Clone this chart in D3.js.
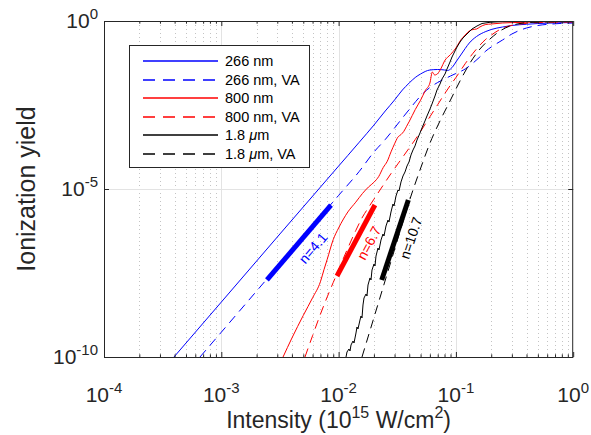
<!DOCTYPE html>
<html><head><meta charset="utf-8">
<script src="https://cdn.jsdelivr.net/npm/d3@7"></script>
<style>
body{margin:0;background:#fff}
svg{display:block}
text{font-family:"Liberation Sans",Arial,Helvetica,sans-serif;fill:#262626}
</style>
</head><body>
<svg id="chart" width="591" height="435"></svg>
<script>
// ---------------- data ----------------
const xTickExps = [-4, -3, -2, -1, 0];
const yTickExps = [-10, -5, 0];

const int266 = [3.95e-4, 1e-3, 1e-2, 1.2e-2, 1.5e-2, 2.0e-2, 2.5e-2, 3.0e-2, 3.5e-2, 4.0e-2, 4.5e-2, 5.0e-2, 6.0e-2, 7.0e-2, 8.0e-2, 8.5e-2, 9.0e-2, 9.5e-2, 0.10, 0.11, 0.12, 0.13, 0.15, 0.18, 0.20, 0.25, 0.30, 0.40, 0.50, 0.70, 1.0];
const yld266 = [1e-10, 4.31e-9, 4.81e-5, 1.0e-4, 2.47e-4, 7.98e-4, 2.10e-3, 4.46e-3, 8.84e-3, 1.43e-2, 2.08e-2, 2.65e-2, 3.48e-2, 3.60e-2, 3.48e-2, 3.36e-2, 3.73e-2, 4.58e-2, 6.02e-2, 9.73e-2, 0.152, 0.221, 0.346, 0.487, 0.558, 0.663, 0.735, 0.80, 0.84, 0.88, 0.90];

const int266VA = [6.58e-4, 1e-3, 1e-2, 1.5e-2, 2.0e-2, 2.5e-2, 3.0e-2, 3.5e-2, 4.0e-2, 5.0e-2, 6.0e-2, 7.0e-2, 8.0e-2, 9.0e-2, 0.10, 0.12, 0.14, 0.16, 0.18, 0.20, 0.25, 0.30, 0.40, 0.50, 0.70, 1.0];
const yld266VA = [1e-10, 5.47e-10, 6.45e-6, 3.34e-5, 1.26e-4, 2.97e-4, 6.54e-4, 1.30e-3, 2.32e-3, 5.86e-3, 1.05e-2, 1.48e-2, 1.88e-2, 2.31e-2, 2.74e-2, 3.73e-2, 5.62e-2, 8.48e-2, 0.128, 0.168, 0.272, 0.410, 0.619, 0.735, 0.826, 0.872];

const int800 = [3.36e-3, 4e-3, 5e-3, 6e-3, 7e-3, 7.5e-3, 8e-3, 9e-3, 1.0e-2, 1.1e-2, 1.2e-2, 1.4e-2, 1.6e-2, 1.8e-2, 2.0e-2, 2.2e-2, 2.4e-2, 2.6e-2, 2.8e-2, 3.0e-2, 3.2e-2, 3.4e-2, 3.6e-2, 3.8e-2, 4.0e-2, 4.5e-2, 5.0e-2, 5.5e-2, 6.0e-2, 6.3e-2, 6.6e-2, 7.0e-2, 7.5e-2, 8.0e-2, 9.0e-2, 0.10, 0.11, 0.12, 0.13, 0.14, 0.15, 0.16, 0.18, 0.20, 0.25, 0.30, 0.40, 0.50, 0.70, 1.0];
const yld800 = [1e-10, 3.67e-10, 1.73e-9, 5.78e-9, 1.74e-8, 3.94e-8, 8.09e-8, 3.12e-7, 6.90e-7, 1.28e-6, 2.08e-6, 4.05e-6, 7.4e-6, 1.15e-5, 1.58e-5, 2.37e-5, 4.34e-5, 6.70e-5, 1.28e-4, 2.21e-4, 3.48e-4, 4.16e-4, 5.21e-4, 7.35e-4, 1.02e-3, 2.31e-3, 4.40e-3, 8.66e-3, 1.42e-2, 3.03e-2, 2.47e-2, 2.74e-2, 3.99e-2, 6.45e-2, 0.1007, 0.157, 0.272, 0.383, 0.504, 0.558, 0.578, 0.663, 0.787, 0.814, 0.872, 0.896, 0.915, 0.934, 0.947, 0.96];

const int800VA = [5.17e-3, 5.5e-3, 6e-3, 7e-3, 8e-3, 9e-3, 1.0e-2, 1.1e-2, 1.2e-2, 1.4e-2, 1.6e-2, 1.8e-2, 2.0e-2, 2.4e-2, 2.8e-2, 3.2e-2, 3.6e-2, 4.0e-2, 4.5e-2, 5.0e-2, 6.0e-2, 7.0e-2, 8.0e-2, 9.0e-2, 0.10, 0.11, 0.12, 0.14, 0.16, 0.18, 0.20, 0.25, 0.30, 0.40, 0.50, 0.70, 1.0];
const yld800VA = [1e-10, 1.85e-10, 4.30e-10, 1.88e-9, 6.15e-9, 1.65e-8, 3.94e-8, 8.71e-8, 1.75e-7, 5.78e-7, 1.47e-6, 2.83e-6, 4.97e-6, 1.30e-5, 2.89e-5, 5.58e-5, 9.93e-5, 1.66e-4, 2.97e-4, 5.18e-4, 1.41e-3, 3.25e-3, 6.77e-3, 1.24e-2, 2.08e-2, 3.41e-2, 5.36e-2, 0.110, 0.190, 0.287, 0.380, 0.611, 0.745, 0.848, 0.896, 0.921, 0.934];

const int1800 = [1.157e-2, 1.179e-2, 1.226e-2, 1.251e-2, 1.276e-2, 1.327e-2, 1.353e-2, 1.407e-2, 1.435e-2, 1.463e-2, 1.522e-2, 1.552e-2, 1.583e-2, 1.614e-2, 1.646e-2, 1.713e-2, 1.746e-2, 1.781e-2, 1.852e-2, 1.889e-2, 1.926e-2, 2.004e-2, 2.043e-2, 2.084e-2, 2.167e-2, 2.210e-2, 2.298e-2, 2.390e-2, 2.438e-2, 2.535e-2, 2.637e-2, 2.689e-2, 2.797e-2, 2.909e-2, 2.967e-2, 3.086e-2, 3.209e-2, 3.273e-2, 3.404e-2, 3.540e-2, 3.682e-2, 3.830e-2, 3.983e-2, 4.142e-2, 4.308e-2, 4.481e-2, 4.660e-2, 4.942e-2, 5.140e-2, 5.451e-2, 5.670e-2, 6.014e-2, 6.255e-2, 6.633e-2, 6.900e-2, 7.317e-2, 7.610e-2, 8.073e-2, 8.399e-2, 8.907e-2, 9.265e-2, 9.824e-2, 0.1022, 0.1084, 0.1149, 0.1243, 0.1372, 0.1513, 0.1669, 0.1953, 0.2377, 0.40, 1.0];
const yld1800 = [1e-10, 1.41e-10, 1.73e-10, 1.51e-10, 2.28e-10, 2.99e-10, 2.61e-10, 5.18e-10, 7.82e-10, 6.81e-10, 1.26e-9, 1.66e-9, 1.45e-9, 3.53e-9, 5.70e-9, 7.50e-9, 6.53e-9, 1.39e-8, 2.25e-8, 1.96e-8, 3.88e-8, 5.86e-8, 5.11e-8, 1.01e-7, 1.75e-7, 1.53e-7, 3.03e-7, 4.58e-7, 3.99e-7, 7.92e-7, 1.19e-6, 1.04e-6, 2.07e-6, 3.58e-6, 3.12e-6, 6.19e-6, 9.33e-6, 8.72e-6, 1.62e-5, 2.44e-5, 3.21e-5, 4.84e-5, 6.37e-5, 1.03e-4, 1.45e-4, 1.91e-4, 2.87e-4, 4.64e-4, 6.54e-4, 1.06e-3, 1.49e-3, 2.40e-3, 3.39e-3, 5.86e-3, 8.84e-3, 1.33e-2, 1.88e-2, 2.65e-2, 3.73e-2, 6.02e-2, 8.48e-2, 0.128, 0.168, 0.237, 0.312, 0.410, 0.578, 0.710, 0.843, 0.915, 0.95, 0.98, 0.99];

const int1800VA = [1.583e-2, 1.926e-2, 2.344e-2, 2.852e-2, 3.471e-2, 4.061e-2, 4.942e-2, 6.014e-2, 7.317e-2, 8.907e-2, 0.1084, 0.1319, 0.1605, 0.1953, 0.2377, 0.2892, 0.3520, 0.4543, 1.0];
const yld1800VA = [1e-10, 9.6e-10, 9.2e-9, 8.84e-8, 8.49e-7, 5.04e-6, 3.67e-5, 2.34e-4, 1.06e-3, 4.16e-3, 1.64e-2, 5.62e-2, 0.147, 0.291, 0.504, 0.710, 0.843, 0.915, 0.96];

// power-law fits (thick segments) and their labels
const fitInt = [[2.45e-3, 8.61e-3], [9.69e-3, 2.04e-2], [2.33e-2, 3.93e-2]];
const fitYld = [[1.96e-8, 3.34e-6], [2.58e-8, 3.34e-6], [1.96e-8, 4.71e-6]];
const fitLabels = ["n=4.1", "n=6.7", "n=10.7"];
const fitLabelInt = [6.05e-3, 1.82e-2, 4.14e-2];
const fitLabelYld = [1.75e-7, 2.47e-7, 3.48e-7];
const fitColors = ["#0000ff", "#ff0000", "#000000"];

const seriesNames = ["266 nm", "266 nm, VA", "800 nm", "800 nm, VA", "1.8 \u03bcm", "1.8 \u03bcm, VA"];
const seriesColors = ["#0000ff", "#0000ff", "#ff0000", "#ff0000", "#000000", "#000000"];

// ---------------- chart ----------------
const svg = d3.select("#chart");
const L = 104, R = 573.2, T = 21, B = 357;
const x = d3.scaleLog().domain([1e-4, 1]).range([L, R]);
const y = d3.scaleLog().domain([1e-10, 1]).range([B, T]);
const axisColor = "#262626";

svg.append("rect").attr("x", L).attr("y", T).attr("width", R - L).attr("height", B - T).attr("fill", "#fff");

const xMinor = [];
for (let e = -4; e < 0; e++) for (let k = 2; k <= 9; k++) xMinor.push(k * Math.pow(10, e));
const xMajor = xTickExps.map(e => Math.pow(10, e));
const yMajor = yTickExps.map(e => Math.pow(10, e));

// grid
const grid = svg.append("g");
grid.selectAll(".mg").data(xMinor).join("line")
  .attr("x1", d => Math.round(x(d)) + 0.5).attr("x2", d => Math.round(x(d)) + 0.5)
  .attr("y1", T).attr("y2", B)
  .attr("stroke", "#c4c4c4").attr("stroke-width", 1).attr("stroke-dasharray", "1,3");
grid.selectAll(".Mg").data(xMajor.slice(1, -1)).join("line")
  .attr("x1", d => Math.round(x(d)) + 0.5).attr("x2", d => Math.round(x(d)) + 0.5)
  .attr("y1", T).attr("y2", B)
  .attr("stroke", "#e3e3e3").attr("stroke-width", 1);
grid.selectAll(".My").data(yMajor.slice(1, -1)).join("line")
  .attr("y1", d => Math.round(y(d)) + 0.5).attr("y2", d => Math.round(y(d)) + 0.5)
  .attr("x1", L).attr("x2", R)
  .attr("stroke", "#e3e3e3").attr("stroke-width", 1);

// clip
svg.append("defs").append("clipPath").attr("id", "clip")
  .append("rect").attr("x", L).attr("y", T).attr("width", R - L).attr("height", B - T);

const plot = svg.append("g").attr("clip-path", "url(#clip)");
const smooth = d3.line().x(d => x(d[0])).y(d => y(d[1])).curve(d3.curveMonotoneX);
const straight = d3.line().x(d => x(d[0])).y(d => y(d[1]));
const zip = (a, b) => a.map((v, i) => [v, b[i]]);

const series = [
  {xs: int266, ys: yld266, dash: null, gen: smooth},
  {xs: int266VA, ys: yld266VA, dash: "9,6", gen: smooth},
  {xs: int800, ys: yld800, dash: null, gen: smooth},
  {xs: int800VA, ys: yld800VA, dash: "9,6", gen: smooth},
  {xs: int1800, ys: yld1800, dash: null, gen: straight},
  {xs: int1800VA, ys: yld1800VA, dash: "9,6", gen: smooth}
];
series.forEach((s, i) => {
  plot.append("path").attr("d", s.gen(zip(s.xs, s.ys)))
    .style("fill", "none").style("stroke", seriesColors[i]).style("stroke-width", 1)
    .style("stroke-dasharray", s.dash);
});

// fit segments
fitInt.forEach((fx, i) => {
  plot.append("line")
    .attr("x1", x(fx[0])).attr("y1", y(fitYld[i][0]))
    .attr("x2", x(fx[1])).attr("y2", y(fitYld[i][1]))
    .style("stroke", fitColors[i]).style("stroke-width", 5);
  const ang = Math.atan2(y(fitYld[i][1]) - y(fitYld[i][0]), x(fx[1]) - x(fx[0])) * 180 / Math.PI;
  const lx = x(fitLabelInt[i]), ly = y(fitLabelYld[i]);
  svg.append("text").attr("transform", `translate(${lx},${ly}) rotate(${ang})`)
    .attr("text-anchor", "middle").attr("dy", "0.35em")
    .style("fill", fitColors[i]).style("font-size", "14px").text(fitLabels[i]);
});

// axes with d3 axis generators
function styleAxis(g) {
  g.select(".domain").remove();
  g.selectAll(".tick line").attr("stroke", axisColor);
  g.selectAll(".tick text").remove();
}
svg.append("g").attr("transform", `translate(0,${B})`)
  .call(d3.axisBottom(x).tickValues(xMajor).tickSize(-5).tickFormat(() => "")).call(styleAxis);
svg.append("g").attr("transform", `translate(0,${B})`)
  .call(d3.axisBottom(x).tickValues(xMinor).tickSize(-2.7).tickFormat(() => "")).call(styleAxis);
svg.append("g").attr("transform", `translate(0,${T})`)
  .call(d3.axisTop(x).tickValues(xMajor).tickSize(-5).tickFormat(() => "")).call(styleAxis);
svg.append("g").attr("transform", `translate(0,${T})`)
  .call(d3.axisTop(x).tickValues(xMinor).tickSize(-2.7).tickFormat(() => "")).call(styleAxis);
svg.append("g").attr("transform", `translate(${L},0)`)
  .call(d3.axisLeft(y).tickValues(yMajor).tickSize(-5).tickFormat(() => "")).call(styleAxis);
svg.append("g").attr("transform", `translate(${R},0)`)
  .call(d3.axisRight(y).tickValues(yMajor).tickSize(-5).tickFormat(() => "")).call(styleAxis);

// box
svg.append("rect").attr("x", L + 0.5).attr("y", T + 0.5).attr("width", R - L - 1).attr("height", B - T)
  .attr("fill", "none").attr("stroke", axisColor).attr("stroke-width", 1);

// tick labels
function powLabel(sel, exp) {
  sel.append("tspan").text("10");
  sel.append("tspan").attr("dy", -9).style("font-size", "15px").text(String(exp));
}
xTickExps.forEach(e => {
  const t = svg.append("text").attr("x", x(Math.pow(10, e))).attr("y", 402)
    .attr("text-anchor", "middle").style("font-size", "21px");
  powLabel(t, e);
});
yTickExps.forEach(e => {
  const t = svg.append("text").attr("x", 98).attr("y", y(Math.pow(10, e)) + 7)
    .attr("text-anchor", "end").style("font-size", "21px");
  powLabel(t, e);
});

// axis titles
const xl = svg.append("text").attr("x", (L + R) / 2).attr("y", 428).attr("text-anchor", "middle").style("font-size", "23px");
xl.append("tspan").text("Intensity (10");
xl.append("tspan").attr("dy", -10).style("font-size", "16px").text("15");
xl.append("tspan").attr("dy", 10).text(" W/cm");
xl.append("tspan").attr("dy", -10).style("font-size", "16px").text("2");
xl.append("tspan").attr("dy", 10).text(")");

svg.append("text").attr("transform", `translate(35,${(T + B) / 2}) rotate(-90)`)
  .attr("text-anchor", "middle").style("font-size", "25px").text("Ionization yield");

// legend
const lg = svg.append("g");
lg.append("rect").attr("x", 129.5).attr("y", 45.5).attr("width", 180).attr("height", 122)
  .style("fill", "#fff").style("stroke", axisColor).style("stroke-width", 1);
seriesNames.forEach((name, i) => {
  const yy = Math.round(61 + i * 18.6);
  lg.append("line").attr("x1", 143).attr("x2", 218).attr("y1", yy).attr("y2", yy)
    .style("stroke", seriesColors[i]).style("stroke-width", 1.3)
    .style("stroke-dasharray", series[i].dash ? "12,8" : null);
  const t = lg.append("text").attr("x", 225).attr("y", yy + 5).style("font-size", "14.5px").style("fill", "#000");
  const parts = name.split("\u03bc");
  if (parts.length > 1) {
    t.append("tspan").text(parts[0]);
    t.append("tspan").style("font-style", "italic").text("\u03bc");
    t.append("tspan").text(parts[1]);
  } else t.text(name);
});
</script>
</body></html>
